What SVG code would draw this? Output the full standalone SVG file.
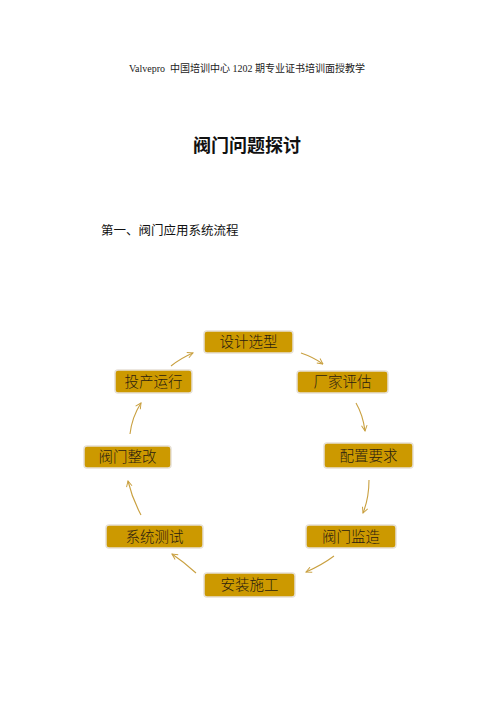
<svg xmlns="http://www.w3.org/2000/svg" width="496" height="702" viewBox="0 0 496 702">
<defs>
<marker id="ah" viewBox="0 0 10 10" refX="9" refY="5" markerWidth="7" markerHeight="7" orient="auto" markerUnits="userSpaceOnUse">
<path d="M1,1 L9,5 L1,9" fill="none" stroke="#c9a040" stroke-width="1.4"/>
</marker>
<style>
.box{fill:#cc9900;stroke:#e6e0d6;stroke-width:1.5}
.lbl{font-family:"Liberation Serif","Noto Sans CJK SC",serif;font-size:14.5px;font-weight:300;fill:#2a2010;text-anchor:middle}
.arr{fill:none;stroke:#c9a040;stroke-width:1.1;marker-end:url(#ah)}
</style>
</defs>
<rect width="496" height="702" fill="#ffffff"/>
<text x="129" y="72" font-family="Liberation Serif, Noto Sans CJK SC, serif" font-size="10" fill="#222">Valvepro<tspan dx="5">中国培训中心 1202 期专业证书培训面授教学</tspan></text>
<text x="247" y="152" text-anchor="middle" font-family="Noto Sans CJK SC, sans-serif" font-size="18" font-weight="bold" fill="#111">阀门问题探讨</text>
<text x="101" y="235" font-family="Noto Sans CJK SC, sans-serif" font-size="12.5" fill="#111">第一、阀门应用系统流程</text>
<g id="connectors">
<path class="arr" d="M171,366 Q181,358 193,353"/>
<path class="arr" d="M301,353 Q313,357 323,364"/>
<path class="arr" d="M356,403 Q363,415 365,431"/>
<path class="arr" d="M369,480 Q369,498 363,513"/>
<path class="arr" d="M334,556 Q322,565 306,572"/>
<path class="arr" d="M196,573 Q184,562 172,554"/>
<path class="arr" d="M141,515 Q132,498 128,481"/>
<path class="arr" d="M130,434 Q132,417 141,403"/>
</g>
<g id="n1"><rect class="box" x="204" y="331" width="89" height="22" rx="3"/><text class="lbl" x="248.5" y="347">设计选型</text></g>
<g id="n2"><rect class="box" x="297" y="371" width="91" height="22" rx="3"/><text class="lbl" x="342.5" y="387">厂家评估</text></g>
<g id="n3"><rect class="box" x="324" y="443" width="89" height="25" rx="3"/><text class="lbl" x="368.5" y="461">配置要求</text></g>
<g id="n4"><rect class="box" x="306" y="525" width="90" height="23" rx="3"/><text class="lbl" x="351" y="542">阀门监造</text></g>
<g id="n5"><rect class="box" x="204" y="573" width="91" height="24" rx="3"/><text class="lbl" x="249.5" y="590">安装施工</text></g>
<g id="n6"><rect class="box" x="106" y="525" width="97" height="23" rx="3"/><text class="lbl" x="154.5" y="542">系统测试</text></g>
<g id="n7"><rect class="box" x="84" y="446" width="87" height="22" rx="3"/><text class="lbl" x="127.5" y="462">阀门整改</text></g>
<g id="n8"><rect class="box" x="115" y="370" width="77" height="23" rx="3"/><text class="lbl" x="153.5" y="387">投产运行</text></g>
</svg>
